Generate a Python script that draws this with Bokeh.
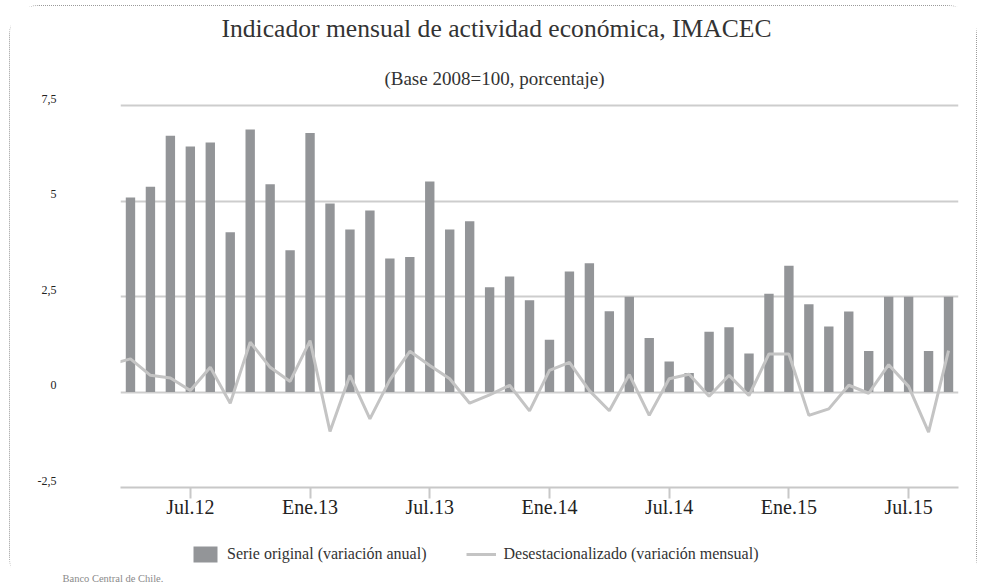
from bokeh.plotting import figure
from bokeh.layouts import column
from bokeh.models import (ColumnDataSource, FixedTicker, LinearAxis, Range1d, Grid,
                          Legend, LegendItem, Label)
from bokeh.embed import file_html
from bokeh.resources import INLINE

# ---------------- data ----------------
meses = ["Abr.12", "May.12", "Jun.12", "Jul.12", "Ago.12", "Sep.12", "Oct.12", "Nov.12", "Dic.12",
         "Ene.13", "Feb.13", "Mar.13", "Abr.13", "May.13", "Jun.13", "Jul.13", "Ago.13", "Sep.13",
         "Oct.13", "Nov.13", "Dic.13",
         "Ene.14", "Feb.14", "Mar.14", "Abr.14", "May.14", "Jun.14", "Jul.14", "Ago.14", "Sep.14",
         "Oct.14", "Nov.14", "Dic.14",
         "Ene.15", "Feb.15", "Mar.15", "Abr.15", "May.15", "Jun.15", "Jul.15", "Ago.15", "Sep.15"]

serie_original = [5.10, 5.38, 6.72, 6.44, 6.54, 4.19, 6.88, 5.45, 3.72,
                  6.79, 4.94, 4.26, 4.76, 3.50, 3.54, 5.52, 4.26, 4.48, 2.75, 3.03, 2.41,
                  1.37, 3.16, 3.38, 2.12, 2.50, 1.42, 0.80, 0.50, 1.58, 1.70, 1.01, 2.58,
                  3.31, 2.30, 1.72, 2.11, 1.08, 2.50, 2.50, 1.08, 2.50]

meses_desest = ["Mar.12"] + meses
desestacionalizado = [0.73,
                      0.87, 0.44, 0.37, 0.04, 0.65, -0.29, 1.31, 0.65, 0.28,
                      1.35, -1.03, 0.44, -0.70, 0.32, 1.07, 0.70, 0.35, -0.29, -0.07, 0.18, -0.49,
                      0.57, 0.78, 0.04, -0.49, 0.46, -0.61, 0.35, 0.47, -0.11, 0.44, -0.09, 1.00,
                      1.00, -0.61, -0.44, 0.18, -0.03, 0.72, 0.15, -1.05, 1.09]

etiquetas_x = ["Jul.12", "Ene.13", "Jul.13", "Ene.14", "Jul.14", "Ene.15", "Jul.15"]
y_ticks = [-2.5, 0, 2.5, 5, 7.5]
y_tick_labels = ["-2,5", "0", "2,5", "5", "7,5"]

titulo = "Indicador mensual de actividad económica, IMACEC"
subtitulo = "(Base 2008=100, porcentaje)"
fuente = "Banco Central de Chile."
leyenda_barras = "Serie original (variación anual)"
leyenda_linea = "Desestacionalizado (variación mensual)"

# month -> position on the x axis
pos = {m: i for i, m in enumerate(meses)}
pos["Mar.12"] = -1

src_bar = ColumnDataSource(dict(x=[pos[m] for m in meses], v=serie_original))
src_line = ColumnDataSource(dict(x=[pos[m] for m in meses_desest], v=desestacionalizado))

FONT = "Liberation Serif"
BAR_COLOR = "#939598"
LINE_COLOR = "#c4c4c4"
W = 966


def blank_panel(height):
    f = figure(width=W, height=height, x_range=Range1d(0, 1), y_range=Range1d(0, 1),
               output_backend="svg", toolbar_location=None, title_location=None,
               x_axis_location=None, y_axis_location=None, frame_align=False,
               min_border_left=0, min_border_right=0, min_border_top=0, min_border_bottom=0,
               outline_line_color=None, background_fill_color="white", border_fill_color="white")
    f.grid.visible = False
    return f


# ---------------- header: title and subtitle ----------------
head = blank_panel(84)
head.add_layout(Label(x=486, y=62, x_units="screen", y_units="screen", text=titulo,
                      text_align="center", text_baseline="alphabetic",
                      text_font=FONT, text_font_size="25.6px", text_color="#333333"))
head.add_layout(Label(x=484, y=12.5, x_units="screen", y_units="screen", text=subtitulo,
                      text_align="center", text_baseline="alphabetic",
                      text_font=FONT, text_font_size="19px", text_color="#333333"))

# ---------------- chart ----------------
p = figure(width=W, height=437,
           x_range=Range1d(-0.5, 41.5), y_range=Range1d(-2.5, 7.8),
           output_backend="svg", toolbar_location=None, title_location=None,
           y_axis_location=None, frame_align=False,
           min_border_left=110, min_border_right=18, min_border_top=4, min_border_bottom=40,
           outline_line_color=None, background_fill_color="white", border_fill_color="white")
p.grid.visible = False

ygrid = Grid(dimension=1, ticker=FixedTicker(ticks=y_ticks),
             grid_line_color="#cdcdcd", grid_line_width=2)
p.add_layout(ygrid)

bars = p.vbar(x="x", top="v", bottom=0, width=0.47, source=src_bar,
              fill_color=BAR_COLOR, line_color=None)
line = p.line(x="x", y="v", source=src_line, line_color=LINE_COLOR, line_width=3)

xa = p.xaxis[0]
xa.ticker = FixedTicker(ticks=[pos[m] for m in etiquetas_x])
xa.major_label_overrides = {pos[m]: m for m in etiquetas_x}
xa.axis_line_color = "#c8c8c8"
xa.axis_line_width = 2
xa.major_tick_line_color = "#c8c8c8"
xa.major_tick_line_width = 2
xa.major_tick_out = 11
xa.major_tick_in = 0
xa.minor_tick_line_color = None
xa.major_label_standoff = -3
xa.major_label_text_font = FONT
xa.major_label_text_font_size = "20px"
xa.major_label_text_color = "#222222"

# y labels sit slightly above their grid lines
d = 0.18
p.extra_y_ranges = {"etiquetas": Range1d(-2.5 - d, 7.8 - d)}
ya = LinearAxis(y_range_name="etiquetas", ticker=FixedTicker(ticks=y_ticks),
                major_label_overrides=dict(zip(y_ticks, y_tick_labels)),
                axis_line_color=None, major_tick_line_color=None, minor_tick_line_color=None,
                major_tick_out=0, major_tick_in=0, major_label_standoff=64,
                major_label_text_font=FONT, major_label_text_font_size="12px",
                major_label_text_color="#222222")
p.add_layout(ya, "left")

# ---------------- footer: legend and source ----------------
foot = blank_panel(60)
# hidden copies of the two series, only used as legend keys
leg_bar = foot.vbar(x="x", top="v", bottom=0, width=0.47, source=src_bar,
                    fill_color=BAR_COLOR, line_color=None, visible=False)
leg_line = foot.line(x="x", y="v", source=src_line, line_color=LINE_COLOR, line_width=3,
                     visible=False)
legend = Legend(items=[LegendItem(label=leyenda_barras, renderers=[leg_bar]),
                       LegendItem(label=leyenda_linea, renderers=[leg_line])],
                orientation="horizontal", location=(180, 23),
                glyph_width=30, glyph_height=20, label_standoff=7, spacing=40,
                padding=0, margin=0, border_line_color=None, background_fill_alpha=0,
                label_text_font=FONT, label_text_font_size="16px",
                label_text_color="#333333", label_height=20)
foot.add_layout(legend)
foot.add_layout(Label(x=52, y=9, x_units="screen", y_units="screen", text=fuente,
                      text_align="left", text_baseline="alphabetic",
                      text_font=FONT, text_font_size="10.5px", text_color="#8a8a8a"))

page = column(head, p, foot, spacing=0,
              styles={"margin-left": "9px", "margin-top": "5px",
                      "border-top": "1px dotted #9a9a9a", "border-left": "1px dotted #9a9a9a",
                      "border-right": "1px dotted #9a9a9a", "border-radius": "30px"})

open("out.html", "w").write(file_html(page, INLINE))
